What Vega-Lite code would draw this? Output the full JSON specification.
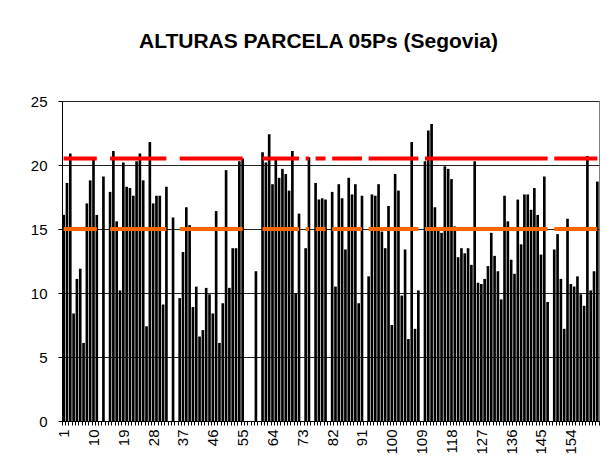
{
  "$schema": "https://vega.github.io/schema/vega-lite/v6.json",
  "autosize": {"type": "none"},
  "width": 537,
  "height": 320,
  "padding": {"left": 62, "top": 101, "right": 7, "bottom": 54},
  "background": "white",
  "title": {
    "text": "ALTURAS PARCELA 05Ps (Segovia)",
    "anchor": "middle",
    "frame": "group",
    "offset": 42,
    "dx": -12,
    "font": "Liberation Sans",
    "fontSize": 21,
    "fontWeight": "bold",
    "color": "#000000"
  },
  "config": {
    "view": {"stroke": "#808080", "strokeWidth": 1},
    "axis": {"labelFont": "Liberation Sans", "titleFont": "Liberation Sans", "labelColor": "#000000", "domainColor": "#000000", "tickColor": "#000000"}
  },
  "data": {
    "values": [
      {"i":1,"h":16.1,"sup":20.5,"inf":15},{"i":2,"h":18.6,"sup":20.5,"inf":15},{"i":3,"h":20.9,"sup":20.5,"inf":15},{"i":4,"h":8.4,"sup":20.5,"inf":15},{"i":5,"h":11.1,"sup":20.5,"inf":15},{"i":6,"h":11.9,"sup":20.5,"inf":15},{"i":7,"h":6.1,"sup":20.5,"inf":15},{"i":8,"h":17.0,"sup":20.5,"inf":15},{"i":9,"h":18.8,"sup":20.5,"inf":15},{"i":10,"h":20.4,"sup":20.5,"inf":15},
      {"i":11,"h":16.1,"sup":20.5,"inf":15},{"i":12,"h":null,"sup":null,"inf":null},{"i":13,"h":19.1,"sup":20.5,"inf":15},{"i":14,"h":null,"sup":null,"inf":null},{"i":15,"h":17.9,"sup":20.5,"inf":15},{"i":16,"h":21.1,"sup":20.5,"inf":15},{"i":17,"h":15.6,"sup":20.5,"inf":15},{"i":18,"h":10.2,"sup":20.5,"inf":15},{"i":19,"h":20.2,"sup":20.5,"inf":15},{"i":20,"h":18.3,"sup":20.5,"inf":15},
      {"i":21,"h":18.2,"sup":20.5,"inf":15},{"i":22,"h":17.6,"sup":20.5,"inf":15},{"i":23,"h":20.3,"sup":20.5,"inf":15},{"i":24,"h":20.9,"sup":20.5,"inf":15},{"i":25,"h":18.8,"sup":20.5,"inf":15},{"i":26,"h":7.4,"sup":20.5,"inf":15},{"i":27,"h":21.8,"sup":20.5,"inf":15},{"i":28,"h":17.0,"sup":20.5,"inf":15},{"i":29,"h":17.6,"sup":20.5,"inf":15},{"i":30,"h":17.6,"sup":20.5,"inf":15},
      {"i":31,"h":9.1,"sup":20.5,"inf":15},{"i":32,"h":18.3,"sup":20.5,"inf":15},{"i":33,"h":null,"sup":null,"inf":null},{"i":34,"h":15.9,"sup":20.5,"inf":15},{"i":35,"h":null,"sup":null,"inf":null},{"i":36,"h":9.6,"sup":20.5,"inf":15},{"i":37,"h":13.2,"sup":20.5,"inf":15},{"i":38,"h":16.7,"sup":20.5,"inf":15},{"i":39,"h":15.3,"sup":20.5,"inf":15},{"i":40,"h":8.9,"sup":20.5,"inf":15},
      {"i":41,"h":10.5,"sup":20.5,"inf":15},{"i":42,"h":6.6,"sup":20.5,"inf":15},{"i":43,"h":7.1,"sup":20.5,"inf":15},{"i":44,"h":10.4,"sup":20.5,"inf":15},{"i":45,"h":9.9,"sup":20.5,"inf":15},{"i":46,"h":8.4,"sup":20.5,"inf":15},{"i":47,"h":16.4,"sup":20.5,"inf":15},{"i":48,"h":6.1,"sup":20.5,"inf":15},{"i":49,"h":9.2,"sup":20.5,"inf":15},{"i":50,"h":19.6,"sup":20.5,"inf":15},
      {"i":51,"h":10.4,"sup":20.5,"inf":15},{"i":52,"h":13.5,"sup":20.5,"inf":15},{"i":53,"h":13.5,"sup":20.5,"inf":15},{"i":54,"h":20.3,"sup":20.5,"inf":15},{"i":55,"h":20.5,"sup":20.5,"inf":15},{"i":56,"h":null,"sup":null,"inf":null},{"i":57,"h":null,"sup":null,"inf":null},{"i":58,"h":null,"sup":null,"inf":null},{"i":59,"h":11.7,"sup":20.5,"inf":15},{"i":60,"h":null,"sup":null,"inf":null},
      {"i":61,"h":21.0,"sup":20.5,"inf":15},{"i":62,"h":20.2,"sup":20.5,"inf":15},{"i":63,"h":22.4,"sup":20.5,"inf":15},{"i":64,"h":18.5,"sup":20.5,"inf":15},{"i":65,"h":20.6,"sup":20.5,"inf":15},{"i":66,"h":19.0,"sup":20.5,"inf":15},{"i":67,"h":19.7,"sup":20.5,"inf":15},{"i":68,"h":19.3,"sup":20.5,"inf":15},{"i":69,"h":18.0,"sup":20.5,"inf":15},{"i":70,"h":21.1,"sup":20.5,"inf":15},
      {"i":71,"h":10.0,"sup":20.5,"inf":15},{"i":72,"h":16.2,"sup":20.5,"inf":15},{"i":73,"h":null,"sup":null,"inf":null},{"i":74,"h":13.5,"sup":20.5,"inf":15},{"i":75,"h":20.6,"sup":20.5,"inf":15},{"i":76,"h":null,"sup":null,"inf":null},{"i":77,"h":18.6,"sup":20.5,"inf":15},{"i":78,"h":17.3,"sup":20.5,"inf":15},{"i":79,"h":17.4,"sup":20.5,"inf":15},{"i":80,"h":17.3,"sup":20.5,"inf":15},
      {"i":81,"h":null,"sup":null,"inf":null},{"i":82,"h":17.9,"sup":20.5,"inf":15},{"i":83,"h":10.5,"sup":20.5,"inf":15},{"i":84,"h":18.5,"sup":20.5,"inf":15},{"i":85,"h":17.4,"sup":20.5,"inf":15},{"i":86,"h":13.4,"sup":20.5,"inf":15},{"i":87,"h":19.0,"sup":20.5,"inf":15},{"i":88,"h":17.7,"sup":20.5,"inf":15},{"i":89,"h":18.5,"sup":20.5,"inf":15},{"i":90,"h":9.2,"sup":20.5,"inf":15},
      {"i":91,"h":17.6,"sup":20.5,"inf":15},{"i":92,"h":null,"sup":null,"inf":null},{"i":93,"h":11.3,"sup":20.5,"inf":15},{"i":94,"h":17.7,"sup":20.5,"inf":15},{"i":95,"h":17.6,"sup":20.5,"inf":15},{"i":96,"h":18.5,"sup":20.5,"inf":15},{"i":97,"h":14.8,"sup":20.5,"inf":15},{"i":98,"h":13.5,"sup":20.5,"inf":15},{"i":99,"h":16.8,"sup":20.5,"inf":15},{"i":100,"h":7.5,"sup":20.5,"inf":15},
      {"i":101,"h":19.3,"sup":20.5,"inf":15},{"i":102,"h":18.0,"sup":20.5,"inf":15},{"i":103,"h":9.8,"sup":20.5,"inf":15},{"i":104,"h":13.4,"sup":20.5,"inf":15},{"i":105,"h":6.4,"sup":20.5,"inf":15},{"i":106,"h":21.8,"sup":20.5,"inf":15},{"i":107,"h":7.2,"sup":20.5,"inf":15},{"i":108,"h":10.2,"sup":20.5,"inf":15},{"i":109,"h":null,"sup":null,"inf":null},{"i":110,"h":20.3,"sup":20.5,"inf":15},
      {"i":111,"h":22.7,"sup":20.5,"inf":15},{"i":112,"h":23.2,"sup":20.5,"inf":15},{"i":113,"h":16.7,"sup":20.5,"inf":15},{"i":114,"h":14.9,"sup":20.5,"inf":15},{"i":115,"h":14.7,"sup":20.5,"inf":15},{"i":116,"h":19.9,"sup":20.5,"inf":15},{"i":117,"h":19.7,"sup":20.5,"inf":15},{"i":118,"h":18.9,"sup":20.5,"inf":15},{"i":119,"h":15.2,"sup":20.5,"inf":15},{"i":120,"h":12.8,"sup":20.5,"inf":15},
      {"i":121,"h":13.5,"sup":20.5,"inf":15},{"i":122,"h":13.1,"sup":20.5,"inf":15},{"i":123,"h":13.5,"sup":20.5,"inf":15},{"i":124,"h":12.2,"sup":20.5,"inf":15},{"i":125,"h":20.3,"sup":20.5,"inf":15},{"i":126,"h":10.8,"sup":20.5,"inf":15},{"i":127,"h":10.7,"sup":20.5,"inf":15},{"i":128,"h":11.1,"sup":20.5,"inf":15},{"i":129,"h":12.1,"sup":20.5,"inf":15},{"i":130,"h":14.7,"sup":20.5,"inf":15},
      {"i":131,"h":12.9,"sup":20.5,"inf":15},{"i":132,"h":11.7,"sup":20.5,"inf":15},{"i":133,"h":9.5,"sup":20.5,"inf":15},{"i":134,"h":17.6,"sup":20.5,"inf":15},{"i":135,"h":15.6,"sup":20.5,"inf":15},{"i":136,"h":12.6,"sup":20.5,"inf":15},{"i":137,"h":11.5,"sup":20.5,"inf":15},{"i":138,"h":17.3,"sup":20.5,"inf":15},{"i":139,"h":13.8,"sup":20.5,"inf":15},{"i":140,"h":17.7,"sup":20.5,"inf":15},
      {"i":141,"h":17.7,"sup":20.5,"inf":15},{"i":142,"h":16.5,"sup":20.5,"inf":15},{"i":143,"h":18.2,"sup":20.5,"inf":15},{"i":144,"h":16.1,"sup":20.5,"inf":15},{"i":145,"h":13.0,"sup":20.5,"inf":15},{"i":146,"h":19.1,"sup":20.5,"inf":15},{"i":147,"h":9.3,"sup":20.5,"inf":15},{"i":148,"h":null,"sup":null,"inf":null},{"i":149,"h":13.4,"sup":20.5,"inf":15},{"i":150,"h":14.6,"sup":20.5,"inf":15},
      {"i":151,"h":11.1,"sup":20.5,"inf":15},{"i":152,"h":7.2,"sup":20.5,"inf":15},{"i":153,"h":15.8,"sup":20.5,"inf":15},{"i":154,"h":10.7,"sup":20.5,"inf":15},{"i":155,"h":10.5,"sup":20.5,"inf":15},{"i":156,"h":11.3,"sup":20.5,"inf":15},{"i":157,"h":9.9,"sup":20.5,"inf":15},{"i":158,"h":9.0,"sup":20.5,"inf":15},{"i":159,"h":20.7,"sup":20.5,"inf":15},{"i":160,"h":10.2,"sup":20.5,"inf":15},
      {"i":161,"h":11.7,"sup":20.5,"inf":15},{"i":162,"h":18.7,"sup":20.5,"inf":15}
    ]
  },
  "encoding": {
    "x": {
      "field": "i",
      "type": "ordinal",
      "sort": "ascending",
      "scale": {"paddingInner": 0.2, "paddingOuter": 0.1},
      "axis": {
        "title": null,
        "labelAngle": -90,
        "labelAlign": "right",
        "labelBaseline": "middle",
        "labelFontSize": 15,
        "labelPadding": 4,
        "labelOverlap": false,
        "labelExpr": "(toNumber(datum.value) - 1) % 9 == 0 ? datum.label : ''",
        "tickBand": "extent",
        "tickSize": 4,
        "domainColor": "#000000",
        "grid": false
      }
    }
  },
  "layer": [
    {
      "mark": {"type": "bar", "color": "#000000", "invalid": "break-paths-show-domains"},
      "encoding": {
        "y": {
          "field": "h",
          "type": "quantitative",
          "scale": {"domain": [0, 25], "nice": false},
          "axis": {
            "title": null,
            "values": [0, 5, 10, 15, 20, 25],
            "labelFontSize": 15,
            "labelPadding": 11,
            "tickSize": 4,
            "grid": true,
            "gridColor": "#222222",
            "gridWidth": 1
          }
        }
      }
    },
    {
      "mark": {"type": "line", "color": "#FF0000", "strokeWidth": 4, "strokeCap": "butt", "invalid": "break-paths-show-domains"},
      "encoding": {"y": {"field": "sup", "type": "quantitative"}}
    },
    {
      "mark": {"type": "line", "color": "#FF6600", "strokeWidth": 4, "strokeCap": "butt", "invalid": "break-paths-show-domains"},
      "encoding": {"y": {"field": "inf", "type": "quantitative"}}
    }
  ]
}
